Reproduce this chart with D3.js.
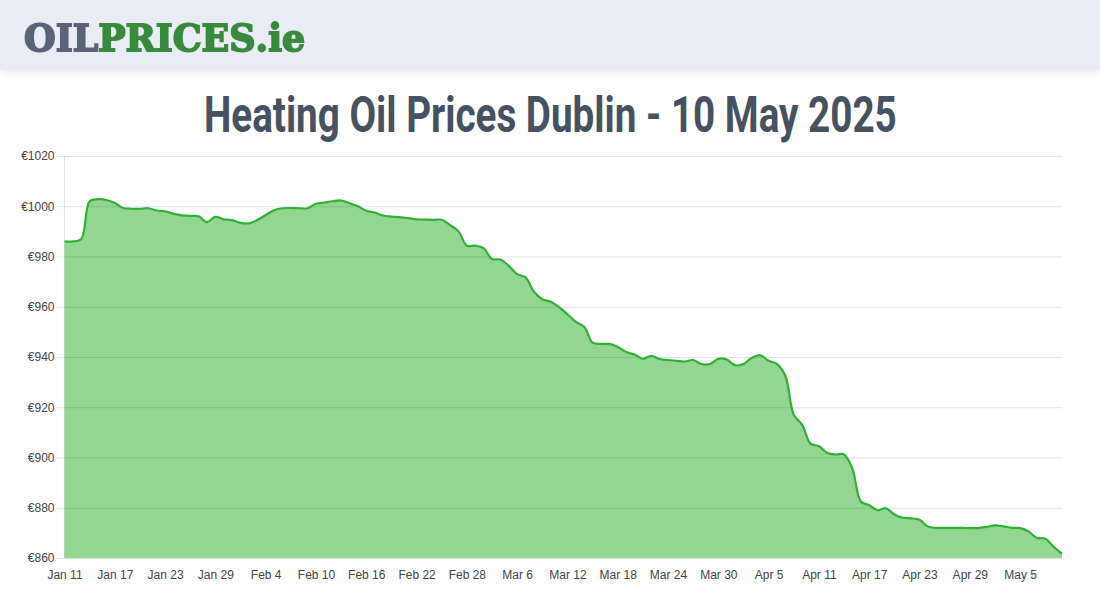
<!DOCTYPE html>
<html>
<head>
<meta charset="utf-8">
<script src="https://cdnjs.cloudflare.com/ajax/libs/d3/7.8.5/d3.min.js"></script>
<style>
html, body { margin: 0; padding: 0; background: #fff; overflow: hidden; }
#header { position: absolute; left: 0; top: 0; width: 1100px; height: 70px; background: #e9ecf4; box-shadow: 0 2px 8px rgba(0,0,0,.1); }
svg { position: absolute; left: 0; top: 0; }
</style>
</head>
<body>
<div id="header"></div>
<svg id="chart" width="1100" height="600"></svg>
<script>
let titleText = "Heating Oil Prices Dublin - 10 May 2025";
let logoParts = ["OIL", "PRICES", ".ie"];
let logoColors = ["#5a6478", "#388a3c", "#388a3c"];
let yTicks = [860, 880, 900, 920, 940, 960, 980, 1000, 1020];

// one price per day, Jan 11 to May 10
let prices = [
  986, 986, 987, 1002, 1002.8, 1002.5, 1001.3, 999.3, 999, 999,
  999.2, 998.3, 998, 997, 996.4, 996.2, 996, 993.7, 995.8, 994.8,
  994.5, 993.4, 993.2, 994.5, 996.5, 998.4, 999.2, 999.3, 999.2, 999.2,
  1001, 1001.5, 1002, 1002.3, 1001.2, 1000, 998.2, 997.5, 996.3, 995.9,
  995.7, 995.3, 994.8, 994.7, 994.6, 994.6, 992.5, 990, 984.3, 984.3,
  983.3, 979, 978.8, 976.3, 973, 971.7, 966, 963, 962, 959.8,
  957, 954, 952, 945.7, 945.2, 945.2, 944, 942, 941, 939.3,
  940.5, 939.2, 938.8, 938.5, 938.2, 938.8, 937.2, 937.2, 939.3, 939,
  936.7, 937.2, 939.7, 940.7, 938.5, 937.2, 932.5, 917, 913, 905.5,
  904.5, 901.8, 901.2, 901.2, 895.5, 882.5, 881, 879, 879.8, 877.3,
  876, 875.8, 875.2, 872.5, 872, 872, 872, 872, 871.9, 871.9,
  872.4, 873, 872.6, 872, 871.9, 870.6, 868, 867.7, 864.5, 861.7
];

let days = d3.utcDay.range(new Date(Date.UTC(2025, 0, 11)), new Date(Date.UTC(2025, 4, 11)));
let tickDays = days.filter((d, i) => i % 6 === 0);

let plotLeft = 64.5, plotRight = 1062, plotTop = 156, plotBottom = 558;

let svg = d3.select("#chart");

let x = d3.scaleUtc().domain([days[0], days[days.length - 1]]).range([plotLeft, plotRight]);
let y = d3.scaleLinear().domain([860, 1020]).range([plotBottom, plotTop]);

// LOGO //

svg.append("filter").attr("id", "soft")
  .append("feGaussianBlur").attr("stdDeviation", 0.5);

let logo = svg.append("text")
  .attr("font-family", "'DejaVu Serif', serif")
  .attr("font-weight", 900)
  .attr("font-size", 37)
  .attr("stroke-width", 1.8)
  .attr("filter", "url(#soft)");
logoParts.forEach((p, i) => {
  logo.append("tspan").text(p).attr("fill", logoColors[i]).attr("stroke", logoColors[i]);
});
let logoScale = 280 / logo.node().getComputedTextLength();
logo.attr("transform", `translate(24,51) scale(${logoScale},1)`);

// TITLE //

// squeezed to the width of the condensed web font the original uses
let title = svg.append("text")
  .attr("font-family", "Roboto, 'Liberation Sans', sans-serif")
  .attr("font-weight", 700)
  .attr("font-size", 50)
  .attr("fill", "#465162")
  .text(titleText);
let titleScale = 693 / title.node().getComputedTextLength();
title.attr("transform", `translate(204,132) scale(${titleScale},1)`);

// AREA //

let curve = d3.curveCatmullRom.alpha(0.5);

let area = d3.area()
  .x((d, i) => x(days[i]))
  .y0(plotBottom)
  .y1(d => y(d))
  .curve(curve);

let line = d3.line()
  .x((d, i) => x(days[i]))
  .y(d => y(d))
  .curve(curve);

svg.append("path").datum(prices)
  .attr("d", area)
  .attr("fill", "rgba(37,174,37,0.5)");

// GRID //

let yAxis = d3.axisLeft(y).tickValues(yTicks).tickFormat(d => "€" + d)
  .tickSize(plotRight - plotLeft + 9).tickPadding(1);
let yG = svg.append("g")
  .attr("transform", `translate(${plotRight},0)`)
  .call(yAxis);
yG.select(".domain").remove();
yG.selectAll("line").attr("stroke", "rgba(0,0,0,0.1)");
yG.selectAll("text")
  .attr("font-family", "'Liberation Sans', Arial, sans-serif")
  .attr("font-size", 12)
  .attr("fill", "#444");

svg.append("line")
  .attr("x1", plotLeft).attr("x2", plotLeft).attr("y1", plotTop).attr("y2", plotBottom)
  .attr("stroke", "rgba(0,0,0,0.1)");

let xAxis = d3.axisBottom(x).tickValues(tickDays).tickFormat(d3.utcFormat("%b %-d"))
  .tickSize(0).tickPadding(12);
let xG = svg.append("g")
  .attr("transform", `translate(0,${plotBottom})`)
  .call(xAxis);
xG.select(".domain").remove();
xG.selectAll("text")
  .attr("font-family", "'Liberation Sans', Arial, sans-serif")
  .attr("font-size", 12)
  .attr("fill", "#444");

// LINE //

svg.append("path").datum(prices)
  .attr("d", line)
  .attr("fill", "none")
  .attr("stroke", "#30b135")
  .attr("stroke-width", 2.2);
</script>
</body>
</html>
